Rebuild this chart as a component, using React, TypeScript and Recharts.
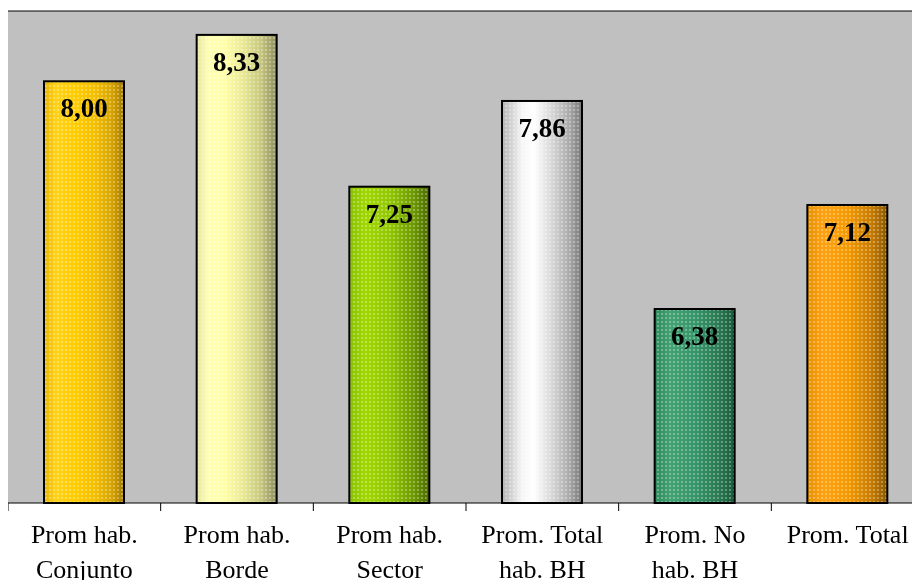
// Promedios por grupo (barras con degradado) — Recharts.
import { BarChart, Bar, XAxis, YAxis, CartesianGrid, ReferenceLine, LabelList } from "recharts";

const categories = ["Conjunto", "Borde", "Sector", "TotalBH", "NoBH", "Total"];
const labelLines = [
  ["Prom hab.", "Conjunto"],
  ["Prom hab.", "Borde"],
  ["Prom hab.", "Sector"],
  ["Prom. Total", "hab. BH"],
  ["Prom. No", "hab. BH"],
  ["Prom. Total", ""],
];
const values = [8.0, 8.33, 7.25, 7.86, 6.38, 7.12];

// degradados izquierda → derecha para cada barra
const gradients: [number, string][][] = [
  [[0, "#E6B400"], [0.15, "#FFD21A"], [0.4, "#FFCC00"], [0.65, "#F2BE00"], [0.85, "#D6A400"], [1, "#A07A00"]],
  [[0, "#E6E6A0"], [0.15, "#FFFFB4"], [0.35, "#FFFFAA"], [0.55, "#EDED98"], [0.8, "#C8C880"], [1, "#8E8E5E"]],
  [[0, "#88C000"], [0.2, "#A2D800"], [0.5, "#92C800"], [0.8, "#6E9A00"], [1, "#4A6A00"]],
  [[0, "#B4B4B4"], [0.25, "#F6F6F6"], [0.4, "#FFFFFF"], [0.65, "#D2D2D2"], [0.85, "#A8A8A8"], [1, "#767676"]],
  [[0, "#2E8A5A"], [0.2, "#42A272"], [0.5, "#36966A"], [0.8, "#2A7A52"], [1, "#1A5A3A"]],
  [[0, "#E69000"], [0.2, "#FFA212"], [0.5, "#F59A00"], [0.8, "#C87C00"], [1, "#8A5800"]],
];

const data = categories.map((c, i) => ({ cat: c, valor: values[i] }));

const CHART_W = 916;
const BAND = CHART_W / categories.length;

function BarShape(props: any) {
  const { x, y, width, height, index } = props;
  return (
    <g>
      <rect x={x} y={y} width={width} height={height} fill={`url(#grad${index})`} />
      <rect x={x} y={y} width={width} height={height} fill="url(#dots)" />
      <rect x={x} y={y} width={width} height={height} fill="none" stroke="#000" strokeWidth={2} />
    </g>
  );
}

function Tick(props: any) {
  const { x, y, payload } = props;
  const idx = categories.indexOf(payload.value);
  const lines = labelLines[idx] ?? [];
  return (
    <g>
      <line x1={x - BAND / 2} x2={x - BAND / 2} y1={y - 8} y2={y} stroke="#000" strokeWidth={1} />
      <text x={x} y={y + 32} textAnchor="middle" fontFamily="'Liberation Serif', serif" fontSize={26} fill="#000">
        <tspan x={x}>{lines[0]}</tspan>
        <tspan x={x} dy={35}>{lines[1]}</tspan>
      </text>
    </g>
  );
}

function ValueLabel(props: any) {
  const { x, y, width, value } = props;
  return (
    <text
      x={x + width / 2}
      y={y + 36}
      textAnchor="middle"
      fontFamily="'Liberation Serif', serif"
      fontWeight="bold"
      fontSize={27}
      fill="#000"
    >
      {Number(value).toFixed(2).replace(".", ",")}
    </text>
  );
}

export default function App() {
  return (
    <div style={{ position: "fixed", top: 8, left: 8, width: 904, height: 572, overflow: "hidden" }}>
      <svg width={0} height={0} style={{ position: "absolute" }}>
        <defs>
          {gradients.map((stops, i) => (
            <linearGradient key={i} id={`grad${i}`} x1="0" y1="0" x2="1" y2="0">
              {stops.map(([o, c], j) => (
                <stop key={j} offset={o} stopColor={c} />
              ))}
            </linearGradient>
          ))}
          <pattern id="dots" width={4} height={4} patternUnits="userSpaceOnUse">
            <rect x={1} y={1} width={2} height={2} fill="#ffffff" fillOpacity={0.3} />
          </pattern>
        </defs>
      </svg>
      <BarChart
        width={CHART_W}
        height={572}
        data={data}
        margin={{ top: 3, right: 0, bottom: 0, left: 0 }}
      >
        <CartesianGrid fill="#C0C0C0" horizontal={false} vertical={false} />
        <XAxis
          dataKey="cat"
          height={77}
          interval={0}
          tick={<Tick />}
          tickLine={false}
          axisLine={{ stroke: "#000", strokeWidth: 1 }}
        />
        <YAxis
          domain={[5, 8.5]}
          width={0}
          tick={false}
          tickLine={false}
          axisLine={{ stroke: "#000", strokeWidth: 1 }}
        />
        <ReferenceLine y={8.5} stroke="#000" strokeWidth={1} />
        <Bar dataKey="valor" barSize={80} shape={<BarShape />} isAnimationActive={false}>
          <LabelList dataKey="valor" content={<ValueLabel />} />
        </Bar>
      </BarChart>
    </div>
  );
}
